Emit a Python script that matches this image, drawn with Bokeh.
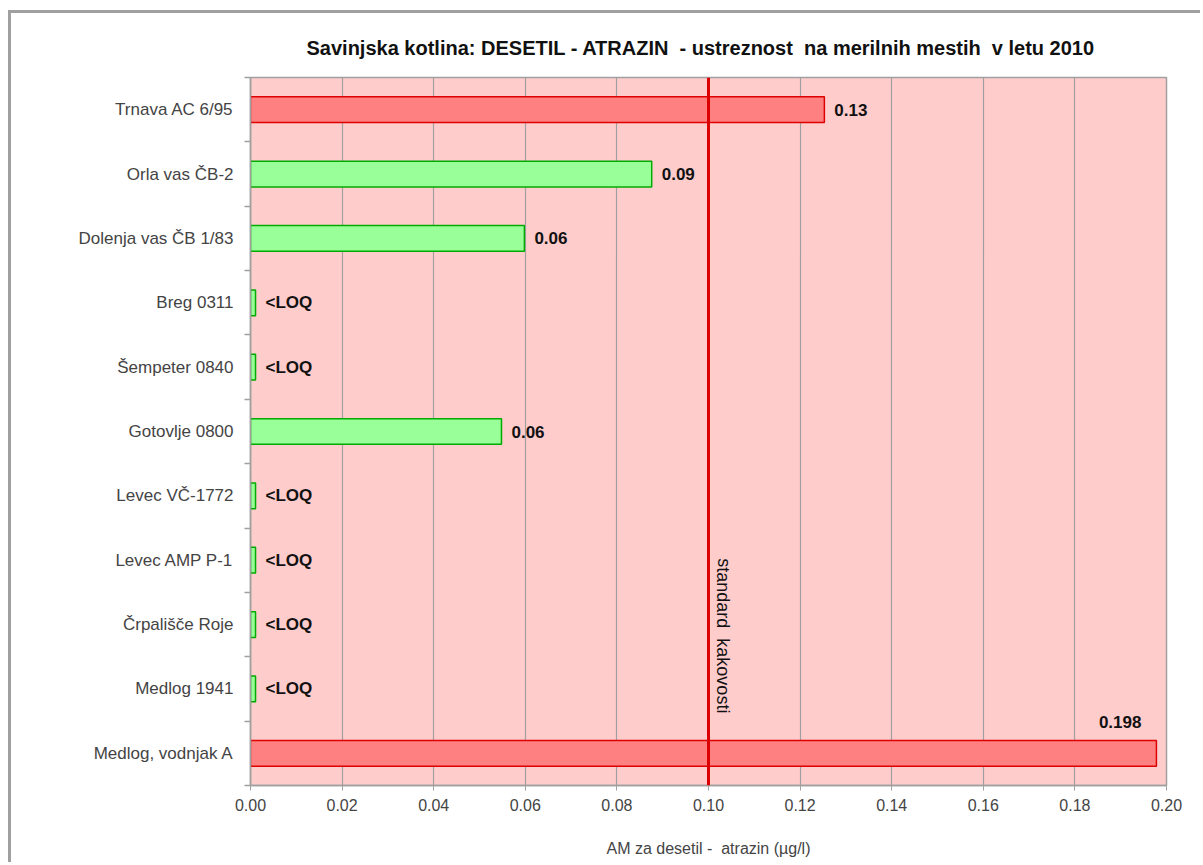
from bokeh.plotting import figure
from bokeh.models import (FixedTicker, Span, Label, ColumnDataSource, Title,
                          NumeralTickFormatter)
from bokeh.core.properties import value
from bokeh.embed import file_html
from bokeh.resources import INLINE

# Monitoring sites, top to bottom
sites = [
    "Trnava AC 6/95",
    "Orla vas ČB-2",
    "Dolenja vas ČB 1/83",
    "Breg 0311",
    "Šempeter 0840",
    "Gotovlje 0800",
    "Levec VČ-1772",
    "Levec AMP P-1",
    "Črpališče Roje",
    "Medlog 1941",
    "Medlog, vodnjak A",
]
# Annual mean desethyl-atrazine (µg/l); sites below LOQ shown as a sliver
values = [0.1253, 0.0876, 0.0598, 0.0011, 0.0011, 0.0548,
          0.0011, 0.0011, 0.0011, 0.0011, 0.1978]
value_labels = ["0.13", "0.09", "0.06", "<LOQ", "<LOQ", "0.06",
                "<LOQ", "<LOQ", "<LOQ", "<LOQ", "0.198"]
exceeds = [True, False, False, False, False, False,
           False, False, False, False, True]
x_ticks = [0.00, 0.02, 0.04, 0.06, 0.08, 0.10, 0.12, 0.14, 0.16, 0.18, 0.20]
quality_standard = 0.10

FONT = "Liberation Sans"
NBSP = "\u00a0"
n = len(sites)
centers = [n - i - 0.5 for i in range(n)]

p = figure(width=1192, height=852, x_range=(0, 0.20), y_range=(0, n),
           output_backend="svg", toolbar_location=None,
           min_border_left=239, min_border_right=37,
           min_border_top=64, min_border_bottom=80)
p.styles = {"margin-left": "8px", "margin-top": "10px",
            "border-left": "3px solid #a0a0a0", "border-top": "3px solid #a0a0a0"}

p.background_fill_color = "#ffcccc"
p.border_fill_color = "white"
p.outline_line_color = "#a0a0a0"
p.outline_line_width = 1.5

title_text = ("Savinjska kotlina: DESETIL - ATRAZIN " + NBSP + "- ustreznost " + NBSP
              + "na merilnih mestih " + NBSP + "v letu 2010")
title = Title(text=title_text, align="left", text_font=FONT, text_font_size="20px",
              text_font_style="bold", text_color="#111111", standoff=38, offset=56)
p.add_layout(title, "above")

# grid: vertical only
p.ygrid.grid_line_color = None
p.xgrid.grid_line_color = "#a0a0a0"
p.xgrid.grid_line_width = 1.2
p.xgrid.ticker = FixedTicker(ticks=x_ticks)

# x axis
p.xaxis.ticker = FixedTicker(ticks=x_ticks)
p.xaxis.formatter = NumeralTickFormatter(format="0.00")
p.xaxis.axis_label = "AM za desetil - " + NBSP + "atrazin (µg/l)"
p.xaxis.axis_label_text_font = FONT
p.xaxis.axis_label_text_font_size = "16px"
p.xaxis.axis_label_text_font_style = "normal"
p.xaxis.axis_label_standoff = 26
p.xaxis.major_label_text_font = FONT
p.xaxis.major_label_text_font_size = "16px"
p.xaxis.major_label_standoff = 8
p.xaxis.axis_line_color = "#a0a0a0"
p.xaxis.axis_line_width = 1.5
p.xaxis.major_tick_line_color = "#a0a0a0"
p.xaxis.major_tick_out = 5
p.xaxis.major_tick_in = 0
p.xaxis.minor_tick_line_color = None

# y axis: labels at band centers, tick marks at band boundaries
p.yaxis.ticker = FixedTicker(ticks=centers, minor_ticks=list(range(n + 1)))
p.yaxis.major_label_overrides = {c: s for c, s in zip(centers, sites)}
p.yaxis.major_label_text_font = FONT
p.yaxis.major_label_text_font_size = "17px"
p.yaxis.major_label_standoff = 11
p.yaxis.major_tick_line_color = None
p.yaxis.minor_tick_line_color = "#a0a0a0"
p.yaxis.minor_tick_out = 6
p.yaxis.minor_tick_in = 0
p.yaxis.minor_tick_line_width = 1.5
p.yaxis.axis_line_color = "#a0a0a0"
p.yaxis.axis_line_width = 1.5

fill = ["#ff8080" if e else "#99ff99" for e in exceeds]
line = ["#dd0000" if e else "#00aa00" for e in exceeds]
src = ColumnDataSource(dict(y=centers, right=values, fill=fill, line=line))
p.hbar(y="y", left=0, right="right", height=0.4, source=src,
       fill_color="fill", line_color="line", line_width=1.5)

# value labels: beside the bar, or above it when the bar nearly fills the axis
lx, ly, lt, la, lxo, lyo = [], [], [], [], [], []
for c, v, t in zip(centers, values, value_labels):
    lx.append(v)
    if v > 0.18:
        ly.append(c + 0.2)
        la.append("right")
        lxo.append(-15)
        lyo.append(-18)
    else:
        ly.append(c)
        la.append("left")
        lxo.append(10)
        lyo.append(0)
    lt.append(t)
lsrc = ColumnDataSource(dict(x=lx, y=ly, text=lt, align=la, xo=lxo, yo=lyo))
p.text(x="x", y="y", text="text", source=lsrc, text_align="align",
       x_offset="xo", y_offset="yo", text_baseline="middle",
       text_font=value(FONT), text_font_size="17px", text_font_style="bold",
       text_color="#111111")

# quality standard line
p.add_layout(Span(location=quality_standard, dimension="height",
                  line_color="#dd0000", line_width=3))
p.add_layout(Label(x=quality_standard, y=3.53,
                   text="standard" + NBSP + NBSP + "kakovosti",
                   angle=-1.5708, x_offset=5, text_baseline="bottom",
                   text_align="left", text_font=FONT, text_font_size="18px",
                   text_color="#111111"))

open("out.html", "w").write(file_html(p, INLINE))
